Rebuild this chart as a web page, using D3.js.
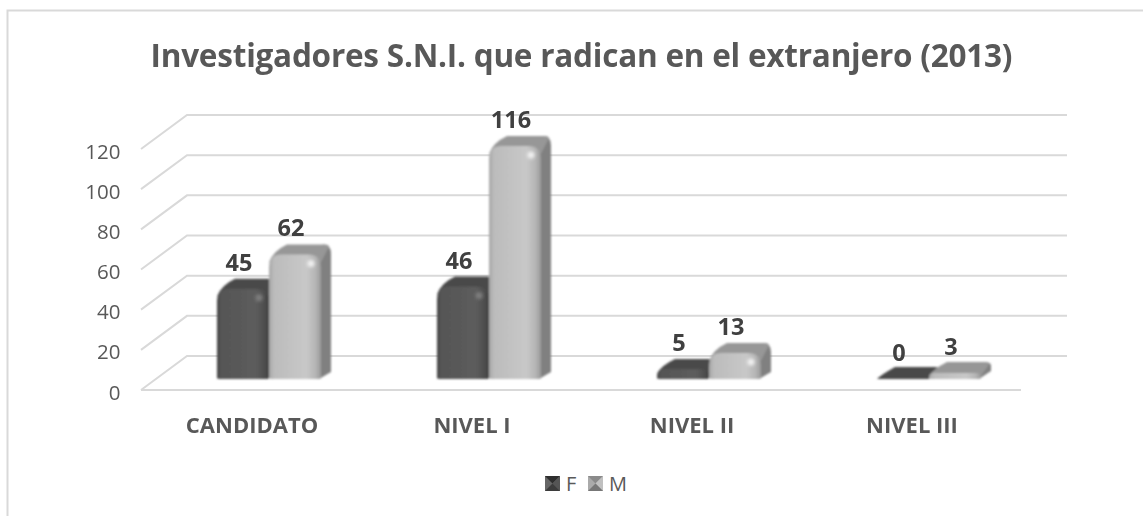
<!DOCTYPE html>
<html><head><meta charset="utf-8">
<script src="https://d3js.org/d3.v7.min.js"></script>
<style>html,body{margin:0;padding:0;background:#fff}svg{display:block}</style>
</head><body><svg id="c" width="1143" height="516"></svg>
<script>
const titleText = "Investigadores S.N.I. que radican en el extranjero (2013)";
const categories = ["CANDIDATO","NIVEL I","NIVEL II","NIVEL III"];
const seriesNames = ["F","M"];
const valuesF = [45,46,5,0];
const valuesM = [62,116,13,3];
const yTicks = [0,20,40,60,80,100,120];

const svg = d3.select("#c");
const font = "'Open Sans',sans-serif";
const dx = 46, dy = 34;           // wall offset
const barDx = 10, barDy = 10;     // bar depth
const y = d3.scaleLinear().domain([0,120]).range([390,149]);
const x = d3.scaleBand().domain(categories).range([141,1021]);
const s = d3.scaleBand().domain(seriesNames).range([0,104]);
const barBase = -11, groupOff = 76;

const defs = svg.append("defs");
defs.append("filter").attr("id","soft").append("feGaussianBlur").attr("stdDeviation",0.9);
defs.append("filter").attr("id","glow").attr("x","-100%").attr("y","-100%").attr("width","300%").attr("height","300%")
  .append("feGaussianBlur").attr("stdDeviation",1.6);
defs.append("filter").attr("id","txt").append("feGaussianBlur").attr("stdDeviation",0.3);
function grad(id,stops){
  const g = defs.append("linearGradient").attr("id",id);
  stops.forEach(([o,c])=>g.append("stop").attr("offset",o).attr("stop-color",c));
}
grad("fF",[[0,"#444"],[.08,"#565656"],[.75,"#5c5c5c"],[.93,"#4c4c4c"],[1,"#3c3c3c"]]);
grad("fM",[[0,"#a6a6a6"],[.1,"#bcbcbc"],[.72,"#c8c8c8"],[.9,"#b4b4b4"],[1,"#9a9a9a"]]);
const sty = {F:{front:"url(#fF)",top:"#484848",side:"#3e3e3e",hi:"#808080"},
             M:{front:"url(#fM)",top:"#979797",side:"#808080",hi:"#f4f4f4"}};

// chart frame
svg.append("path").attr("d","M7.5,516V10.5H1143").attr("fill","none").attr("stroke","#d9d9d9").attr("stroke-width",2);

// walls
const grid = svg.append("g").attr("stroke","#d9d9d9").attr("stroke-width",2).attr("fill","none");
grid.selectAll("path.g").data(yTicks).join("path").attr("class","g")
  .attr("d",v=>`M${x.range()[0]},${y(v)}L${x.range()[0]+dx},${y(v)-dy}H${x.range()[1]+dx}`);
grid.append("path").attr("d",`M${x.range()[0]},${y(0)}H${x.range()[1]}`);

const txt = svg.append("g").attr("filter","url(#txt)");
txt.append("g").selectAll("text").data(yTicks).join("text")
  .attr("x",120.5).attr("y",v=>y(v)+9.5).attr("text-anchor","end")
  .attr("font-family",font).attr("font-size",20.5).attr("fill","#595959").text(d=>d);

function bar(g,cat,name,v){
  const x0 = x(cat)+groupOff+s(name), w = s.bandwidth();
  const b = y(0)+barBase, t = y(v)+barBase, h = b-t;
  const st = sty[name];
  const r = Math.min(13,Math.max(h*.8,2));
  const dpx = barDx, dpy = h<1 ? 12 : barDy + (h<8?1:0);
  // side
  g.append("path").attr("fill",st.side)
   .attr("d",`M${x0+w-4},${t}L${x0+w+dpx-8},${t-dpy}Q${x0+w+dpx},${t-dpy} ${x0+w+dpx},${t-dpy+Math.min(r,dpy+h-4)*.7}V${Math.max(b-dpy+3,t-dpy+2)}L${x0+w-2},${b}Z`);
  // top
  const topInset = 18;
  g.append("path").attr("fill",st.top)
   .attr("d",`M${x0},${t+Math.min(r,h)*.6}Q${x0+4},${t-dpy*.35} ${x0+topInset},${t-dpy}H${x0+w+dpx-7}Q${x0+w+dpx},${t-dpy} ${x0+w+dpx-3},${t-dpy+4}L${x0+w},${t+Math.min(r,h)*.6}Z`);
  // front
  if(h>0){
    g.append("path").attr("fill",st.front)
     .attr("d",`M${x0},${b-1}V${t+r}Q${x0},${t} ${x0+r},${t}H${x0+w-r}Q${x0+w},${t} ${x0+w},${t+r}V${b-1}Q${x0+w},${b} ${x0+w-3},${b}H${x0+3}Q${x0},${b} ${x0},${b-1}Z`);
    if(h>15) g.append("circle").attr("cx",x0+w-10).attr("cy",t+9).attr("r",3.5).attr("fill",st.hi).attr("filter","url(#glow)");
  }
}
const bars = svg.append("g").attr("filter","url(#soft)");
categories.forEach((c,i)=>{
  bar(bars.append("g"),c,"F",valuesF[i]);
  bar(bars.append("g"),c,"M",valuesM[i]);
});

// data labels
const lab = txt.append("g").attr("font-family",font).attr("font-weight",700).attr("font-size",23.5)
  .attr("fill","#404040").attr("text-anchor","middle");
categories.forEach((c,i)=>{
  [["F",valuesF[i]],["M",valuesM[i]]].forEach(([n,v])=>{
    lab.append("text").attr("x",x(c)+groupOff+s(n)+s.bandwidth()/2-4)
      .attr("y",y(v)+barBase-18).text(v);
  });
});

// category labels
txt.append("g").selectAll("text").data(categories).join("text")
  .attr("x",c=>x(c)+x.bandwidth()/2+1).attr("y",432.5).attr("text-anchor","middle")
  .attr("font-family",font).attr("font-weight",700).attr("font-size",22).attr("fill","#595959").text(d=>d);

// title
txt.append("text").attr("x",581.5).attr("y",67).attr("text-anchor","middle")
  .attr("textLength",862).attr("lengthAdjust","spacing")
  .attr("font-family",font).attr("font-weight",700).attr("font-size",31.5).attr("fill","#595959").text(titleText);

// legend
const legX = d3.scalePoint().domain(seriesNames).range([545,588]);
const lg = svg.append("g").selectAll("g").data(seriesNames).join("g").attr("transform",n=>`translate(${legX(n)},476)`);
lg.each(function(n){
  const g = d3.select(this), c = n==="F"?["#2e2e2e","#555","#3c3c3c","#666"]:["#8a8a8a","#c0c0c0","#777","#aaa"];
  g.append("rect").attr("width",15).attr("height",15).attr("fill",c[3]);
  g.append("path").attr("d","M0,0L7.5,7.5L15,0Z").attr("fill",c[0]);
  g.append("path").attr("d","M15,0L7.5,7.5L15,15Z").attr("fill",c[1]);
  g.append("path").attr("d","M0,15L7.5,7.5L15,15Z").attr("fill",c[2]);
  g.append("text").attr("x",21).attr("y",15).attr("font-family",font).attr("font-size",20).attr("fill","#595959").text(n);
});
</script></body></html>
